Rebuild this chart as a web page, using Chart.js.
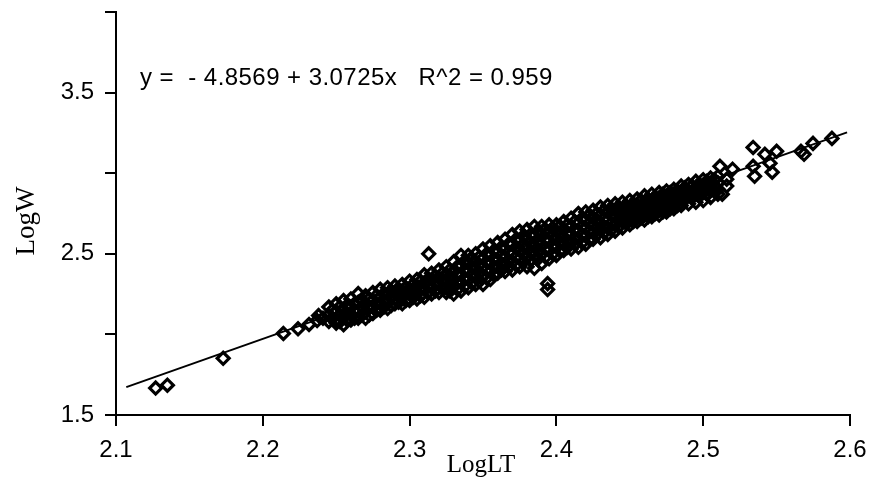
<!DOCTYPE html>
<html>
<head>
<meta charset="utf-8">
<script src="https://cdn.jsdelivr.net/npm/chart.js@4.4.0/dist/chart.umd.min.js"></script>
<style>
  html, body { margin: 0; padding: 0; background: #fff; }
  #wrap { width: 877px; height: 480px; position: relative; }
</style>
</head>
<body>
<div id="wrap"><canvas id="regChart"></canvas></div>
<script>
// LogLT columns, and the LogW readings found in each column
const logLT = [
  2.127, 2.135, 2.173, 2.214, 2.224, 2.2315, 2.237, 2.238, 2.241,
  2.245, 2.250, 2.255, 2.260, 2.265, 2.270, 2.275, 2.280, 2.285, 2.290,
  2.295, 2.300, 2.305, 2.310, 2.313, 2.315, 2.320, 2.325, 2.330, 2.335,
  2.340, 2.345, 2.350, 2.355, 2.360, 2.365, 2.370, 2.375, 2.380, 2.385,
  2.390, 2.394, 2.395, 2.400, 2.405, 2.410, 2.415, 2.420, 2.425, 2.430,
  2.435, 2.440, 2.445, 2.450, 2.455, 2.460, 2.465, 2.470, 2.475, 2.480,
  2.485, 2.490, 2.495, 2.500, 2.505, 2.510,
  2.5114, 2.513, 2.516, 2.520, 2.534, 2.535, 2.542, 2.5455, 2.547, 2.550,
  2.5666, 2.5687, 2.5748, 2.5877
];
const logW = [
  [1.667], [1.685], [1.852], [2.006], [2.035], [2.062], [2.086], [2.117], [2.10],
  [2.17, 2.12, 2.08],
  [2.19, 2.14, 2.09, 2.07],
  [2.21, 2.15, 2.11, 2.06],
  [2.22, 2.17, 2.12, 2.09],
  [2.253, 2.20, 2.15, 2.10],
  [2.24, 2.19, 2.14, 2.10],
  [2.26, 2.21, 2.17, 2.13],
  [2.28, 2.23, 2.19, 2.15],
  [2.29, 2.25, 2.20, 2.16],
  [2.30, 2.26, 2.22, 2.19],
  [2.31, 2.27, 2.23, 2.19],
  [2.33, 2.28, 2.25, 2.21],
  [2.34, 2.30, 2.26, 2.22],
  [2.37, 2.32, 2.28, 2.23],
  [2.50],
  [2.38, 2.34, 2.29, 2.25],
  [2.40, 2.35, 2.31, 2.26],
  [2.42, 2.37, 2.33, 2.29, 2.26],
  [2.45, 2.39, 2.34, 2.30, 2.25],
  [2.49, 2.43, 2.37, 2.32, 2.27],
  [2.49, 2.44, 2.39, 2.34, 2.29],
  [2.50, 2.45, 2.41, 2.36, 2.31],
  [2.53, 2.47, 2.42, 2.36, 2.31],
  [2.55, 2.49, 2.44, 2.39, 2.34],
  [2.57, 2.51, 2.46, 2.42, 2.38],
  [2.59, 2.53, 2.48, 2.43, 2.39],
  [2.62, 2.56, 2.50, 2.45, 2.40],
  [2.64, 2.58, 2.52, 2.47, 2.42],
  [2.65, 2.59, 2.54, 2.48, 2.42],
  [2.67, 2.61, 2.55, 2.49, 2.41],
  [2.67, 2.62, 2.56, 2.50, 2.44],
  [2.315, 2.278],
  [2.68, 2.63, 2.58, 2.52, 2.47],
  [2.68, 2.64, 2.59, 2.54, 2.49],
  [2.70, 2.65, 2.60, 2.56, 2.52],
  [2.72, 2.67, 2.62, 2.57, 2.53],
  [2.75, 2.69, 2.64, 2.59, 2.54],
  [2.76, 2.71, 2.66, 2.61, 2.56],
  [2.77, 2.72, 2.68, 2.63, 2.59],
  [2.79, 2.74, 2.69, 2.65, 2.60],
  [2.80, 2.76, 2.71, 2.66, 2.62],
  [2.81, 2.77, 2.73, 2.68, 2.64],
  [2.82, 2.78, 2.74, 2.70, 2.66],
  [2.83, 2.79, 2.75, 2.71, 2.68],
  [2.84, 2.80, 2.77, 2.73, 2.70],
  [2.86, 2.82, 2.78, 2.74, 2.71],
  [2.87, 2.83, 2.79, 2.76, 2.73],
  [2.88, 2.84, 2.81, 2.77, 2.74],
  [2.89, 2.86, 2.82, 2.79, 2.76],
  [2.90, 2.87, 2.84, 2.80, 2.78],
  [2.92, 2.88, 2.85, 2.80],
  [2.93, 2.89, 2.86, 2.81],
  [2.95, 2.91, 2.87, 2.82],
  [2.96, 2.92, 2.88, 2.83],
  [2.97, 2.93, 2.89, 2.85],
  [2.98, 2.94, 2.90, 2.87],
  [3.043], [2.870], [2.963, 2.92], [3.025], [3.16, 3.043], [2.981], [3.117], [3.062], [3.006], [3.136],
  [3.136], [3.117], [3.185], [3.216]
];

// the packed middle of the cloud, read between the columns above
const fillLT = [
  2.2475, 2.2525, 2.2575, 2.2625, 2.2675, 2.2725, 2.2775, 2.2825, 2.2875, 2.2925,
  2.2975, 2.3025, 2.3075, 2.3125, 2.3175, 2.3225, 2.3275, 2.3325, 2.3375, 2.3425,
  2.3475, 2.3525, 2.3575, 2.3625, 2.3675, 2.3725, 2.3775, 2.3825, 2.3875, 2.3925,
  2.3975, 2.4025, 2.4075, 2.4125, 2.4175, 2.4225, 2.4275, 2.4325, 2.4375, 2.4425,
  2.4475, 2.4525, 2.4575, 2.4625, 2.4675, 2.4725, 2.4775, 2.4825, 2.4875, 2.4925,
  2.4975, 2.5025, 2.5075
];
const fillW = [
  [2.15, 2.10], [2.17, 2.12, 2.08], [2.18, 2.13, 2.09], [2.19, 2.14, 2.10],
  [2.21, 2.17, 2.12], [2.22, 2.17, 2.12], [2.24, 2.19, 2.15], [2.25, 2.21, 2.17],
  [2.27, 2.23, 2.18], [2.28, 2.24, 2.20], [2.29, 2.25, 2.21], [2.31, 2.27, 2.23],
  [2.33, 2.28, 2.24], [2.34, 2.30, 2.26], [2.36, 2.32, 2.27], [2.38, 2.34, 2.29],
  [2.40, 2.36, 2.31, 2.27], [2.42, 2.37, 2.32, 2.28], [2.45, 2.40, 2.35, 2.30],
  [2.47, 2.42, 2.37, 2.32], [2.48, 2.43, 2.38, 2.33], [2.50, 2.45, 2.40, 2.35],
  [2.52, 2.47, 2.42, 2.37], [2.54, 2.49, 2.44, 2.40], [2.56, 2.51, 2.46, 2.42],
  [2.59, 2.54, 2.48, 2.43], [2.61, 2.55, 2.50, 2.45], [2.62, 2.57, 2.51, 2.46],
  [2.64, 2.58, 2.52, 2.47], [2.65, 2.59, 2.53, 2.48], [2.66, 2.61, 2.55, 2.50],
  [2.67, 2.62, 2.57, 2.52], [2.68, 2.63, 2.58, 2.54], [2.70, 2.65, 2.60, 2.56],
  [2.72, 2.67, 2.62, 2.57], [2.74, 2.69, 2.64, 2.59], [2.75, 2.71, 2.66, 2.62],
  [2.77, 2.72, 2.67, 2.63], [2.78, 2.74, 2.69, 2.65], [2.79, 2.75, 2.71, 2.67],
  [2.80, 2.76, 2.72, 2.69], [2.81, 2.77, 2.73, 2.70], [2.83, 2.79, 2.75, 2.72],
  [2.84, 2.80, 2.77, 2.73], [2.85, 2.82, 2.78, 2.75], [2.87, 2.83, 2.80, 2.76],
  [2.88, 2.85, 2.81, 2.78], [2.89, 2.86, 2.83, 2.80], [2.91, 2.87, 2.84],
  [2.92, 2.88, 2.85], [2.93, 2.90, 2.86], [2.95, 2.91, 2.87], [2.96, 2.92, 2.89]
];

// fitted line as drawn in the figure (end points)
const fitLT = [2.107, 2.598];
const fitW = [1.673, 3.253];

const xTicks = [2.1, 2.2, 2.3, 2.4, 2.5, 2.6];
const yLabelled = [1.5, 2.5, 3.5];
const equationText = 'y =  - 4.8569 + 3.0725x   R^2 = 0.959';
const xTitle = 'LogLT';
const yTitle = 'LogW';

const points = [];
function addColumns(xs, ys) {
    xs.forEach((x, i) => {
        ys[i].forEach(y => points.push({ x: x, y: y }));
    });
}
addColumns(logLT, logW);
addColumns(fillLT, fillW);
const fitLine = fitLT.map((x, i) => ({ x: x, y: fitW[i] }));

// equation and axis titles
const textPlugin = {
    id: 'plotTexts',
    afterDraw(chart) {
        const ctx = chart.ctx;
        ctx.save();
        ctx.fillStyle = '#000';
        ctx.textBaseline = 'alphabetic';
        ctx.font = '24px "Liberation Sans"';
        ctx.textAlign = 'left';
        ctx.letterSpacing = '0.45px';
        ctx.fillText(equationText, 140, 85);
        ctx.letterSpacing = '0px';

        ctx.font = '25px "Liberation Serif"';
        ctx.textAlign = 'center';
        ctx.fillText(xTitle, 481, 472);

        ctx.font = '27px "Liberation Serif"';
        ctx.translate(34, 221);
        ctx.rotate(-Math.PI / 2);
        ctx.fillText(yTitle, 0, 0);
        ctx.restore();
    }
};

Chart.defaults.font.family = '"Liberation Sans", Arial, sans-serif';
Chart.defaults.color = '#000';

const ctx = document.getElementById('regChart').getContext('2d');
new Chart(ctx, {
    type: 'scatter',
    data: {
        datasets: [
            {
                type: 'line',
                data: fitLine,
                borderColor: '#000',
                borderWidth: 2,
                pointRadius: 0,
                fill: false,
                order: 2
            },
            {
                data: points,
                pointStyle: 'rectRot',
                pointRadius: 6,
                borderWidth: 3.2,
                borderColor: '#000',
                backgroundColor: 'rgba(255,255,255,0)',
                order: 1
            }
        ]
    },
    options: {
        responsive: true,
        maintainAspectRatio: false,
        animation: false,
        events: [],
        layout: {
            padding: { top: 12, right: 27, left: 0, bottom: 0 }
        },
        scales: {
            x: {
                type: 'linear',
                min: 2.1,
                max: 2.6,
                afterFit: function(scale) {
                    scale.height = 65;
                    scale.paddingLeft = 0;
                    scale.paddingRight = 0;
                },
                afterBuildTicks: function(scale) {
                    scale.ticks = xTicks.map(v => ({ value: v }));
                },
                border: { display: true, color: '#000', width: 2 },
                grid: {
                    drawOnChartArea: false,
                    drawTicks: true,
                    tickLength: 11,
                    color: '#000',
                    lineWidth: 2
                },
                ticks: {
                    autoSkip: false,
                    maxRotation: 0,
                    padding: 10,
                    font: { size: 24 },
                    callback: function(value) { return Number(value).toFixed(1); }
                }
            },
            y: {
                type: 'linear',
                min: 1.5,
                max: 4.0,
                afterFit: function(scale) {
                    scale.width = 116;
                    scale.paddingTop = 0;
                    scale.paddingBottom = 0;
                },
                border: { display: true, color: '#000', width: 2 },
                grid: {
                    drawOnChartArea: false,
                    drawTicks: true,
                    tickLength: 11,
                    color: '#000',
                    lineWidth: 2
                },
                ticks: {
                    stepSize: 0.5,
                    autoSkip: false,
                    padding: 11,
                    font: { size: 24 },
                    callback: function(value) {
                        const hit = yLabelled.some(v => Math.abs(v - value) < 1e-6);
                        return hit ? Number(value).toFixed(1) : '';
                    }
                }
            }
        },
        plugins: {
            legend: { display: false },
            tooltip: { enabled: false },
            title: { display: false }
        }
    },
    plugins: [textPlugin]
});
</script>
</body>
</html>
